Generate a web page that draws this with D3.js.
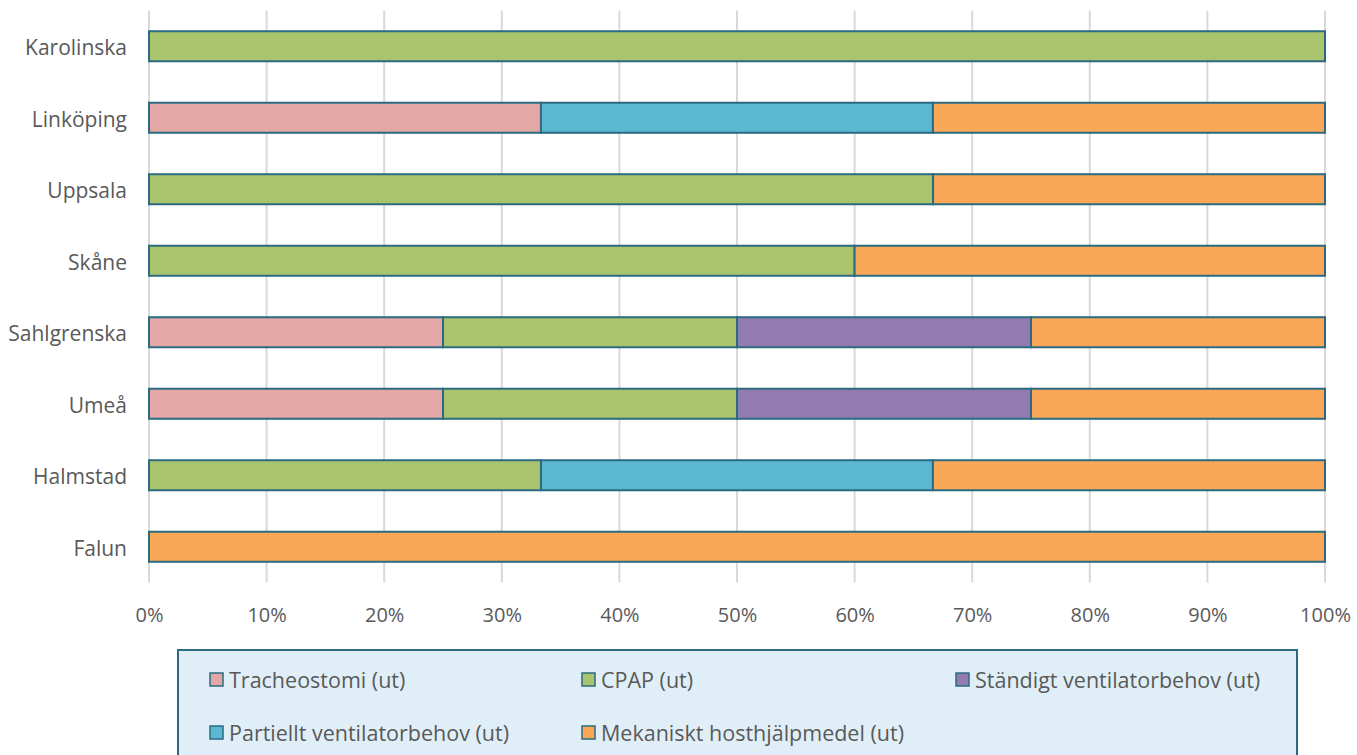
<!DOCTYPE html>
<html><head><meta charset="utf-8">
<script src="https://cdn.jsdelivr.net/npm/d3@7/dist/d3.min.js"></script>
<style>html,body{margin:0;padding:0;background:#fff;overflow:hidden}</style>
</head><body><svg id="c" width="1357" height="755"></svg>
<script>
const categories = ["Karolinska","Linköping","Uppsala","Skåne","Sahlgrenska","Umeå","Halmstad","Falun"];
const seriesNames = ["Tracheostomi (ut)","CPAP (ut)","Ständigt ventilatorbehov (ut)","Partiellt ventilatorbehov (ut)","Mekaniskt hosthjälpmedel (ut)"];
const tracheostomi = [0, 33.33, 0, 0, 25, 25, 0, 0];
const cpap         = [100, 0, 66.67, 60, 25, 25, 33.33, 0];
const standigt     = [0, 0, 0, 0, 25, 25, 0, 0];
const partiellt    = [0, 33.33, 0, 0, 0, 0, 33.33, 0];
const mekaniskt    = [0, 33.34, 33.33, 40, 25, 25, 33.34, 100];
const xTicks = [0,10,20,30,40,50,60,70,80,90,100];
const colors = ["#E3A8A6","#AAC46E","#937BB2","#5BB8D0","#F9A857"];

const seriesVals = [tracheostomi, cpap, standigt, partiellt, mekaniskt];
const table = categories.map((c,i)=>{const o={cat:c}; seriesNames.forEach((s,j)=>o[s]=seriesVals[j][i]); return o;});
const stack = d3.stack().keys(seriesNames)(table);

const svg = d3.select("#c");
const font = "'Open Sans', sans-serif";
const x = d3.scaleLinear().domain([0,100]).range([149,1325]);
const y = d3.scaleBand().domain(categories).range([10.5,582.5]).paddingInner(0.58).paddingOuter(0.29);

// grid
svg.append("g").selectAll("line").data(xTicks).join("line")
  .attr("x1",d=>x(d)).attr("x2",d=>x(d)).attr("y1",10.5).attr("y2",582.5)
  .attr("stroke","#d9d9d9").attr("stroke-width",2);

// bars
svg.append("g").selectAll("g").data(stack).join("g")
  .attr("fill",(d,i)=>colors[i])
  .selectAll("rect").data(d=>d.filter(p=>p[1]-p[0]>0)).join("rect")
  .attr("x",d=>x(d[0])).attr("width",d=>x(d[1])-x(d[0]))
  .attr("y",d=>y(d.data.cat)).attr("height",y.bandwidth())
  .attr("stroke","#2A6B82").attr("stroke-width",2);

// x labels
const xa = d3.axisBottom(x).tickValues(xTicks).tickFormat(d=>d+"%").tickSize(0).tickPadding(0);
const gx = svg.append("g").attr("transform","translate(0,614)").call(xa);
gx.select(".domain").remove();
gx.selectAll("text").attr("font-family",font).attr("font-size",20).attr("fill","#595959").attr("dy","0.38em");

// y labels
const ya = d3.axisLeft(y).tickSize(0).tickPadding(22);
const gy = svg.append("g").attr("transform","translate(149,0)").call(ya);
gy.select(".domain").remove();
gy.selectAll("text").attr("font-family",font).attr("font-size",21).attr("fill","#595959").attr("dy","0.42em");

// legend
const lg = svg.append("g");
lg.append("rect").attr("x",178).attr("y",650).attr("width",1119).attr("height",120)
  .attr("fill","#E0EFF7").attr("stroke","#2A6B82").attr("stroke-width",2);
const legPos = [[210,680],[582,680],[956,680],[210,733],[582,733]];
seriesNames.forEach((s,i)=>{
  const [lx,ly]=legPos[i];
  lg.append("rect").attr("x",lx).attr("y",ly-7).attr("width",13).attr("height",13)
    .attr("fill",colors[i]).attr("stroke","#2A6B82").attr("stroke-width",1.5);
  lg.append("text").attr("x",lx+19).attr("y",ly).attr("dy","0.35em")
    .attr("font-family",font).attr("font-size",21.5).attr("fill","#595959").text(s);
});
</script></body></html>
